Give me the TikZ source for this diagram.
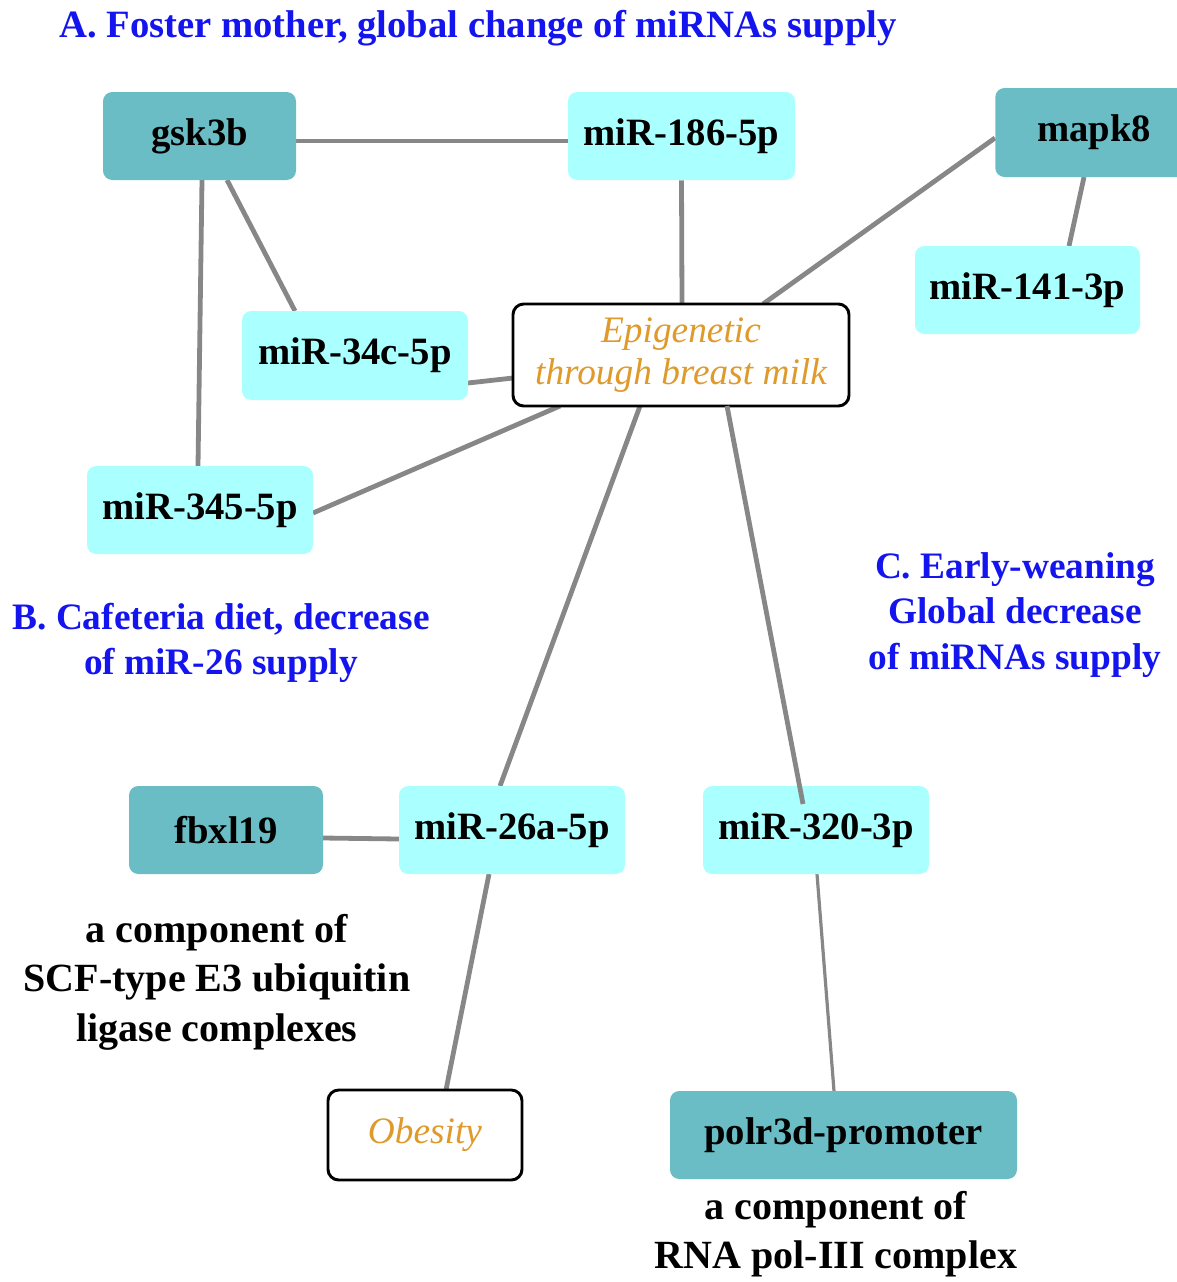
\documentclass[tikz,border=0pt]{standalone}
\usepackage{fontspec}
\setmainfont{Liberation Serif}
\usetikzlibrary{backgrounds}
\definecolor{darkt}{HTML}{6ABDC4}
\definecolor{lightc}{HTML}{AAFFFF}
\definecolor{orng}{HTML}{DF9A2B}
\definecolor{ttlblue}{HTML}{1414EE}
\definecolor{edgegray}{HTML}{878787}
\begin{document}
\begin{tikzpicture}[x=0.75pt,y=-0.75pt,
  gene/.style={fill=darkt,rounded corners=7pt,inner sep=0pt,font=\fontsize{29}{32}\selectfont\bfseries},
  mir/.style={fill=lightc,rounded corners=7pt,inner sep=0pt,font=\fontsize{29}{32}\selectfont\bfseries},
  pheno/.style={draw=black,line width=2.2pt,fill=white,rounded corners=8pt,inner sep=0pt,text=orng,font=\fontsize{28}{32}\selectfont\itshape,align=center},
  ttl/.style={text=ttlblue,font=\fontsize{28}{34}\selectfont\bfseries,align=center,inner sep=0pt},
  note/.style={font=\fontsize{30}{37}\selectfont\bfseries,align=center,inner sep=0pt},
  edge/.style={draw=edgegray,line width=3.6pt},
  thin/.style={draw=edgegray,line width=2.4pt}]
\useasboundingbox (0,0) rectangle (1177,1282);
% titles
\node[ttl,font=\fontsize{29}{34}\selectfont\bfseries] (tA) at (478,28) {A. Foster mother, global change of miRNAs supply};
\node[ttl] (tB) at (221,643) {B. Cafeteria diet, decrease\\of miR-26 supply};
\node[ttl] (tC) at (1015,615) {C. Early-weaning\\Global decrease\\of miRNAs supply};
% nodes
\node[gene,minimum width=0.75*193,minimum height=0.75*88] (gsk) at (199.5,136) {gsk3b};
\node[mir,minimum width=0.75*227,minimum height=0.75*88] (m186) at (681.5,136) {miR-186-5p};
\node[gene,minimum width=0.75*200,minimum height=0.75*89,anchor=west] (mapk) at (995,132.5) {\hspace*{-2pt}mapk8};
\node[mir,minimum width=0.75*225,minimum height=0.75*88] (m141) at (1027.5,290) {miR-141-3p};
\node[mir,minimum width=0.75*226,minimum height=0.75*89] (m34) at (355,355.5) {miR-34c-5p};
\node[pheno,minimum width=0.75*336,minimum height=0.75*102] (epi) at (681,355) {Epigenetic\\through breast milk};
\node[mir,minimum width=0.75*226,minimum height=0.75*88] (m345) at (200,510) {miR-345-5p};
\node[gene,minimum width=0.75*194,minimum height=0.75*88] (fbx) at (226,830) {fbxl19};
\node[mir,minimum width=0.75*226,minimum height=0.75*88] (m26) at (512,830) {miR-26a-5p};
\node[mir,minimum width=0.75*226,minimum height=0.75*88] (m320) at (816,830) {miR-320-3p};
\node[pheno,minimum width=0.75*194,minimum height=0.75*90] (obe) at (425,1135) {Obesity};
\node[gene,minimum width=0.75*347,minimum height=0.75*88] (pol) at (843.5,1135) {polr3d-promoter};
% notes
\node[note] (n1) at (217,982) {a component of\\SCF-type E3 ubiquitin\\ligase complexes};
\node[note] (n2) at (836,1234) {a component of\\RNA pol-III complex};
% edge anchors
\coordinate (gr) at (296,141);
\coordinate (m186l) at (568,141);
\coordinate (g1) at (202,180);
\coordinate (g2) at (227,180);
\coordinate (m345t) at (198,466);
\coordinate (m34t) at (295,311);
\coordinate (epiT1) at (682,304);
\coordinate (epiT2) at (763,304);
\coordinate (mapkL) at (995,138);
\coordinate (mapkB) at (1084,177);
\coordinate (m141t) at (1069,246);
\coordinate (epiL) at (513,378);
\coordinate (m34r) at (468,383);
\coordinate (epiB1) at (560,406);
\coordinate (m345r) at (313,513);
\coordinate (epiB2) at (640,406);
\coordinate (m26t) at (500,786);
\coordinate (epiB3) at (727,406);
\coordinate (m320i) at (803,804);
\coordinate (fbxr) at (323,838);
\coordinate (m26l) at (399,839);
\coordinate (m26b) at (489,874);
\coordinate (obet) at (446,1090);
\coordinate (m320b) at (817,874);
\coordinate (polt) at (834,1091);
\begin{scope}[on background layer]
\draw[edge] (gr) -- (m186l);
\draw[edge] (g1) -- (m345t);
\draw[edge] (g2) -- (m34t);
\draw[edge] (m186.south) -- (epiT1);
\draw[edge] (mapkL) -- (epiT2);
\draw[edge] (mapkB) -- (m141t);
\draw[edge] (m34r) -- (epiL);
\draw[edge] (m345r) -- (epiB1);
\draw[edge] (epiB2) -- (m26t);
\draw[edge] (fbxr) -- (m26l);
\draw[edge] (m26b) -- (obet);
\draw[thin] (m320b) -- (polt);
\end{scope}
\draw[edge] (epiB3) -- (m320i);
\end{tikzpicture}
\end{document}
